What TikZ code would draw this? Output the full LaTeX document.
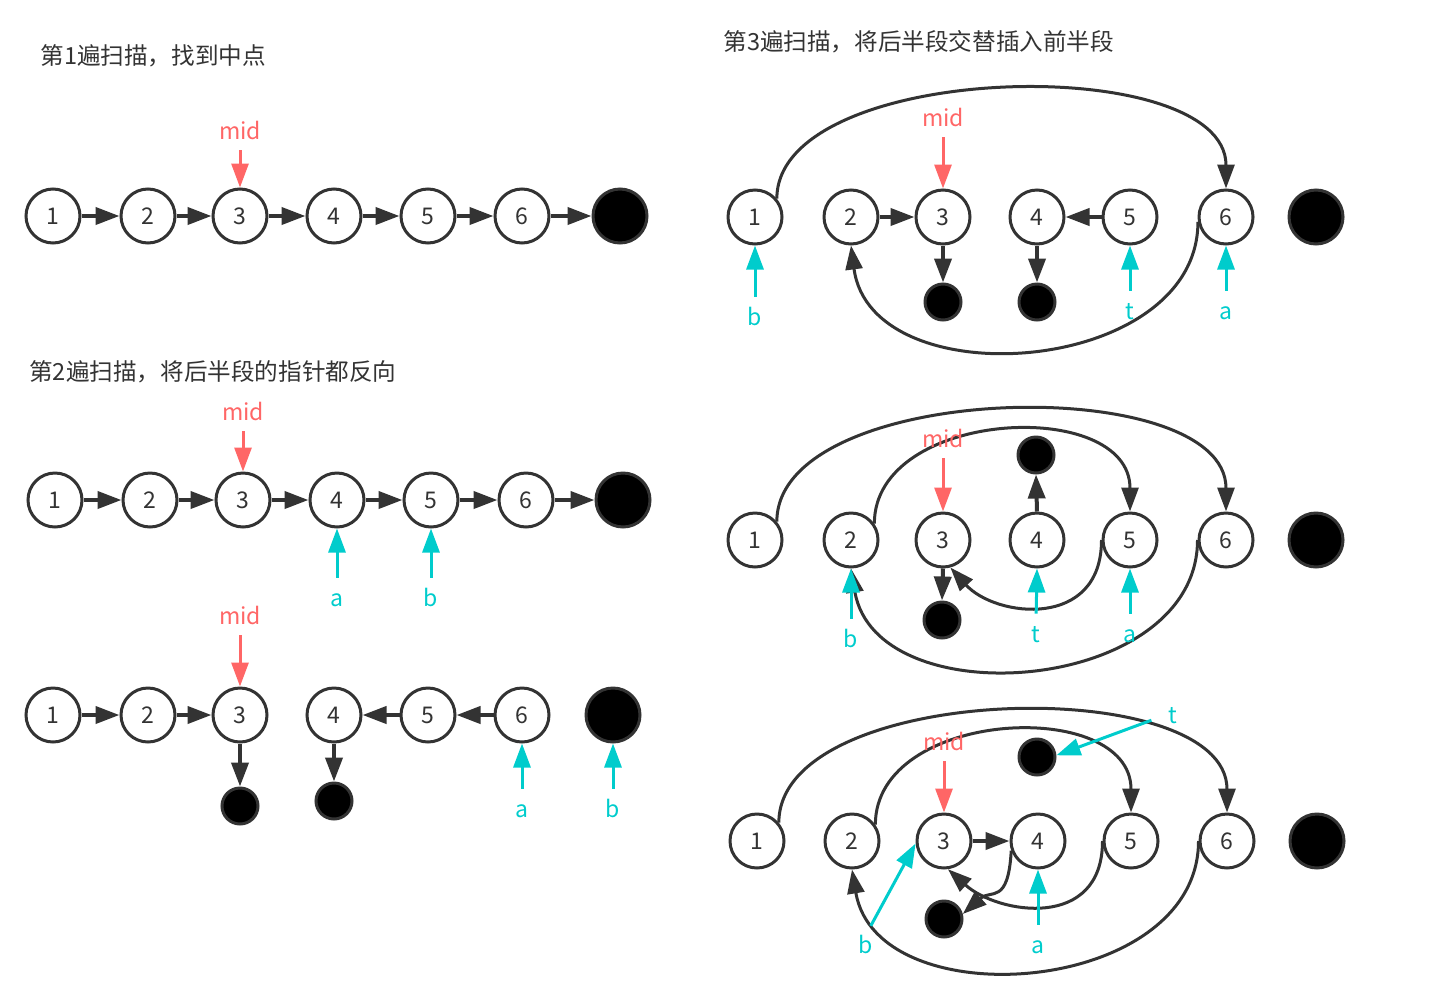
\documentclass[tikz,border=0pt]{standalone}
\usepackage{fontspec}
\setmainfont{Noto Sans CJK SC}
\usetikzlibrary{arrows.meta, positioning}
\definecolor{lk}{HTML}{333333}
\definecolor{midred}{HTML}{FF6666}
\definecolor{ptrcyan}{HTML}{00CCCC}
\newcommand{\figfont}{\fontsize{11.5}{13}\selectfont}
\newcommand{\ttlfont}{\fontsize{11.8}{13}\selectfont}

\begin{document}
\begin{tikzpicture}[
  x=0.5pt, y=-0.5pt,
  >={Triangle[length=12pt,width=8.5pt]},
  nd/.style={circle, draw=lk, line width=1.5pt, fill=white, minimum size=27pt, inner sep=0pt, text=lk, font=\figfont},
  nilbig/.style={circle, draw=lk, fill=black, line width=1.5pt, minimum size=27pt, inner sep=0pt},
  nilsmall/.style={nilbig, minimum size=18pt},
  nx/.style={draw=lk, line width=2pt, ->},
  curvearr/.style={draw=lk, line width=1.5pt, ->},
  midarr/.style={draw=midred, line width=1.5pt, ->, shorten <=5.5pt},
  ptrarr/.style={draw=ptrcyan, line width=1.5pt, ->, shorten <=5pt},
  midlbl/.style={text=midred, anchor=base, inner sep=0pt, text height=9pt, text depth=0pt, font=\figfont},
  ptrlbl/.style={text=ptrcyan, anchor=base, inner sep=0pt, text height=9pt, text depth=0pt, font=\figfont},
  ttl/.style={anchor=base west, inner sep=0pt, text=lk, font=\ttlfont}
  ]
  \useasboundingbox (0,0) rectangle (1434,996);

  % pass 1: find the middle
  \node[ttl] (t1) at (40,64) {第1遍扫描，找到中点};
  \node[nd] (a1) at (53,216) {1};
  \node[nd] (a2) at (148,216) {2};
  \node[nd] (a3) at (240,216) {3};
  \node[nd] (a4) at (334,216) {4};
  \node[nd] (a5) at (428,216) {5};
  \node[nd] (a6) at (522,216) {6};
  \node[nilbig] (az) at (620,216) {};
  \draw[nx] (a1.east) -- (a2.west);
  \draw[nx] (a2.east) -- (a3.west);
  \draw[nx] (a3.east) -- (a4.west);
  \draw[nx] (a4.east) -- (a5.west);
  \draw[nx] (a5.east) -- (a6.west);
  \draw[nx] (a6.east) -- (az.west);
  \node[midlbl] (amid) at (240,139) {mid};
  \draw[midarr] (amid.south) -- (a3.north);

  % pass 2: reverse the second half
  \node[ttl] (t2) at (29,380) {第2遍扫描，将后半段的指针都反向};
  \node[nd] (b1) at (55,500) {1};
  \node[nd] (b2) at (150,500) {2};
  \node[nd] (b3) at (243,500) {3};
  \node[nd] (b4) at (337,500) {4};
  \node[nd] (b5) at (431,500) {5};
  \node[nd] (b6) at (526,500) {6};
  \node[nilbig] (bz) at (623,500) {};
  \draw[nx] (b1.east) -- (b2.west);
  \draw[nx] (b2.east) -- (b3.west);
  \draw[nx] (b3.east) -- (b4.west);
  \draw[nx] (b4.east) -- (b5.west);
  \draw[nx] (b5.east) -- (b6.west);
  \draw[nx] (b6.east) -- (bz.west);
  \node[midlbl] (bmid) at (243,420) {mid};
  \draw[midarr] (bmid.south) -- (b3.north);
  \node[ptrlbl] (ba) at (337,606) {a};
  \node[ptrlbl] (bb) at (431,606) {b};
  \draw[ptrarr] (ba.north) -- (b4.south);
  \draw[ptrarr] (bb.north) -- (b5.south);

  % after reversing
  \node[nd] (c1) at (53,715) {1};
  \node[nd] (c2) at (148,715) {2};
  \node[nd] (c3) at (240,715) {3};
  \node[nd] (c4) at (334,715) {4};
  \node[nd] (c5) at (428,715) {5};
  \node[nd] (c6) at (522,715) {6};
  \node[nilbig] (cz) at (613,715) {};
  \node[nilsmall] (cz3) at (240,806) {};
  \node[nilsmall] (cz4) at (334,801) {};
  \draw[nx] (c1.east) -- (c2.west);
  \draw[nx] (c2.east) -- (c3.west);
  \draw[nx] (c6.west) -- (c5.east);
  \draw[nx] (c5.west) -- (c4.east);
  \draw[nx] (c3.south) -- (cz3.north);
  \draw[nx] (c4.south) -- (cz4.north);
  \node[midlbl] (cmid) at (240,624) {mid};
  \draw[midarr] (cmid.south) -- (c3.north);
  \node[ptrlbl] (ca) at (522,817) {a};
  \node[ptrlbl] (cb) at (613,817) {b};
  \draw[ptrarr] (ca.north) -- (c6.south);
  \draw[ptrarr] (cb.north) -- (cz.south);

  % pass 3: weave the second half into the first
  \node[ttl] (t3) at (723,50) {第3遍扫描，将后半段交替插入前半段};
  \node[nd] (d1) at (755,217) {1};
  \node[nd] (d2) at (851,217) {2};
  \node[nd] (d3) at (943,217) {3};
  \node[nd] (d4) at (1037,217) {4};
  \node[nd] (d5) at (1130,217) {5};
  \node[nd] (d6) at (1226,217) {6};
  \node[nilbig] (dz) at (1316,217) {};
  \node[nilsmall] (dz3) at (943,302) {};
  \node[nilsmall] (dz4) at (1037,302) {};
  \draw[nx] (d2.east) -- (d3.west);
  \draw[nx] (d5.west) -- (d4.east);
  \draw[nx] (d3.south) -- (dz3.north);
  \draw[nx] (d4.south) -- (dz4.north);
  \draw[curvearr] (d1.40) .. controls +(0,-138) and +(0,-138) .. (d6.north);
  \draw[curvearr] (d6.190) .. controls +(0,154) and +(20,154) .. (d2.south);
  \node[midlbl] (dmid) at (943,126) {mid};
  \draw[midarr] (dmid.south) -- (d3.north);
  \node[ptrlbl] (db) at (755,325) {b};
  \node[ptrlbl] (dt) at (1130,319) {t};
  \node[ptrlbl] (da) at (1226,319) {a};
  \draw[ptrarr] (db.north) -- (d1.south);
  \draw[ptrarr] (dt.north) -- (d5.south);
  \draw[ptrarr] (da.north) -- (d6.south);

  % step 2 of pass 3
  \node[nd] (e1) at (755,540) {1};
  \node[nd] (e2) at (851,540) {2};
  \node[nd] (e3) at (943,540) {3};
  \node[nd] (e4) at (1037,540) {4};
  \node[nd] (e5) at (1130,540) {5};
  \node[nd] (e6) at (1226,540) {6};
  \node[nilbig] (ez) at (1316,540) {};
  \node[nilsmall] (ezt) at (1036,455) {};
  \node[nilsmall] (ez3) at (942,620) {};
  \draw[nx] (e4.north) -- (ezt.south);
  \draw[nx] (e3.south) -- (ez3.north);
  \draw[curvearr] (e1.40) .. controls +(0,-141) and +(0,-141) .. (e6.north);
  \draw[curvearr] (e2.35) .. controls +(0,-115) and +(0,-115) .. (e5.north);
  \draw[curvearr] (e5.180) .. controls +(0,90) and +(45,50) .. (e3.-75);
  \draw[curvearr] (e6.180) .. controls +(0,154) and +(25,150) .. (e2.south);
  \node[midlbl] (emid) at (943,447) {mid};
  \draw[midarr] (emid.south) -- (e3.north);
  \node[ptrlbl] (eb) at (851,647) {b};
  \node[ptrlbl] (et) at (1036,642) {t};
  \node[ptrlbl] (ea) at (1130,642) {a};
  \draw[ptrarr] (eb.north) -- (e2.south);
  \draw[ptrarr] (et.north) -- (e4.south);
  \draw[ptrarr] (ea.north) -- (e5.south);

  % step 3 of pass 3
  \node[nd] (f1) at (757,841) {1};
  \node[nd] (f2) at (852,841) {2};
  \node[nd] (f3) at (944,841) {3};
  \node[nd] (f4) at (1038,841) {4};
  \node[nd] (f5) at (1131,841) {5};
  \node[nd] (f6) at (1227,841) {6};
  \node[nilbig] (fz) at (1317,841) {};
  \node[nilsmall] (fzt) at (1037,757) {};
  \node[nilsmall] (fz3) at (944,919) {};
  \draw[nx] (f3.east) -- (f4.west);
  \draw[curvearr] (f1.40) .. controls +(0,-141) and +(0,-141) .. (f6.north);
  \draw[curvearr] (f2.35) .. controls +(0,-116) and +(0,-116) .. (f5.north);
  \draw[curvearr] (f4.200) .. controls +(-3,55) and +(28,-25) .. (fz3.15);
  \draw[curvearr] (f5.180) .. controls +(0,90) and +(50,45) .. (f3.-82);
  \draw[curvearr] (f6.180) .. controls +(0,155) and +(25,150) .. (f2.south);
  \node[midlbl] (fmid) at (944,750) {mid};
  \draw[midarr] (fmid.south) -- (f3.north);
  \node[ptrlbl] (fb) at (866,953) {b};
  \node[ptrlbl] (fa) at (1038,953) {a};
  \node[ptrlbl] (ft) at (1173,723) {t};
  \draw[ptrarr] (fb.north) -- (f3.185);
  \draw[ptrarr] (fa.north) -- (f4.south);
  \draw[ptrarr, shorten <=9pt] (ft.west) -- (fzt.5);
\end{tikzpicture}
\end{document}
